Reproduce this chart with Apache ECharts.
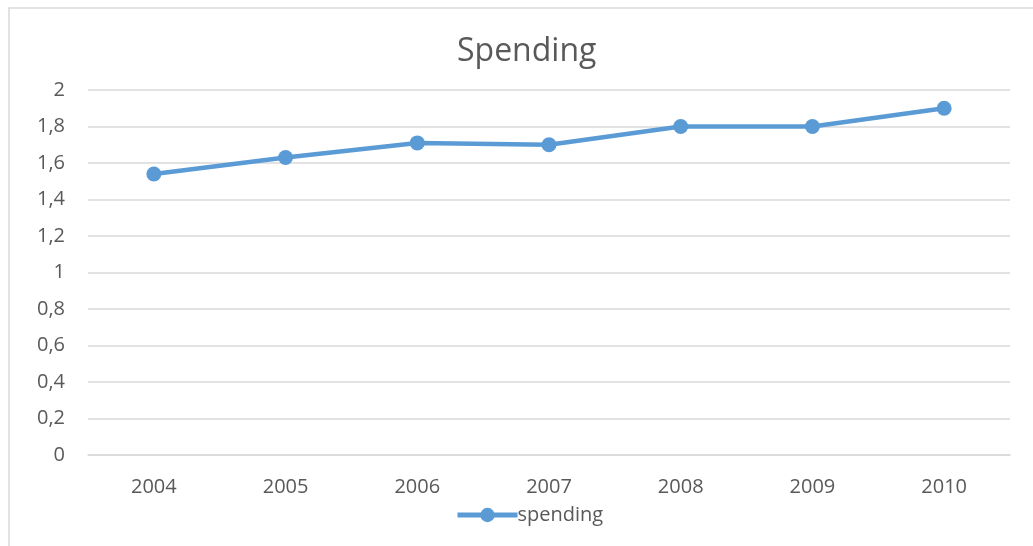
<!DOCTYPE html>
<html>
<head>
<meta charset="utf-8">
<script src="https://cdn.jsdelivr.net/npm/echarts@6/dist/echarts.min.js"></script>
<style>
  html, body { margin: 0; padding: 0; background: #fff; }
  #chart { width: 1033px; height: 546px; }
</style>
</head>
<body>
<div id="chart"></div>
<script>
// data
const years = ['2004', '2005', '2006', '2007', '2008', '2009', '2010']
const spending = [1.54, 1.63, 1.71, 1.70, 1.80, 1.80, 1.90]
const yTicks = { min: 0, max: 2, interval: 0.2 }

const textColor = '#595959'
const gridColor = '#d9d9d9'
const lineColor = '#5b9bd5'
const font = '"Open Sans", "Noto Sans", sans-serif'

const chart = echarts.init(document.getElementById('chart'))
chart.setOption({
  backgroundColor: '#fff',
  textStyle: { fontFamily: font },
  graphic: [
    {
      type: 'rect',
      shape: { x: 9, y: 8, width: 1100, height: 600 },
      style: { fill: 'none', stroke: gridColor, lineWidth: 1.5 },
      silent: true
    }
  ],
  title: {
    text: 'Spending',
    left: 452,
    top: 31,
    textStyle: { color: textColor, fontSize: 32, fontWeight: 'normal', fontFamily: font }
  },
  grid: { left: 88, right: 23, top: 90, bottom: 91, containLabel: false },
  legend: {
    bottom: 16,
    left: 450,
    itemWidth: 60,
    itemHeight: 18,
    itemGap: 0,
    data: ['spending'],
    lineStyle: { width: 5 },
    textStyle: { color: textColor, fontSize: 20, fontFamily: font, padding: [0, 0, 0, -5] }
  },
  xAxis: {
    type: 'category',
    data: years,
    boundaryGap: true,
    axisLine: { lineStyle: { color: gridColor, width: 1.5 } },
    axisTick: { show: false },
    axisLabel: { color: textColor, fontSize: 20, margin: 22, fontFamily: font }
  },
  yAxis: {
    type: 'value',
    min: yTicks.min,
    max: yTicks.max,
    interval: yTicks.interval,
    axisLine: { show: false },
    axisTick: { show: false },
    splitLine: { lineStyle: { color: gridColor, width: 1.5 } },
    axisLabel: {
      color: textColor,
      fontSize: 20,
      margin: 23,
      fontFamily: font,
      formatter: v => String(Math.round(v * 10) / 10).replace('.', ',')
    }
  },
  series: [
    {
      name: 'spending',
      type: 'line',
      data: spending,
      symbol: 'circle',
      symbolSize: 15,
      lineStyle: { color: lineColor, width: 4.5 },
      itemStyle: { color: lineColor },
      animation: false
    }
  ]
})
</script>
</body>
</html>
